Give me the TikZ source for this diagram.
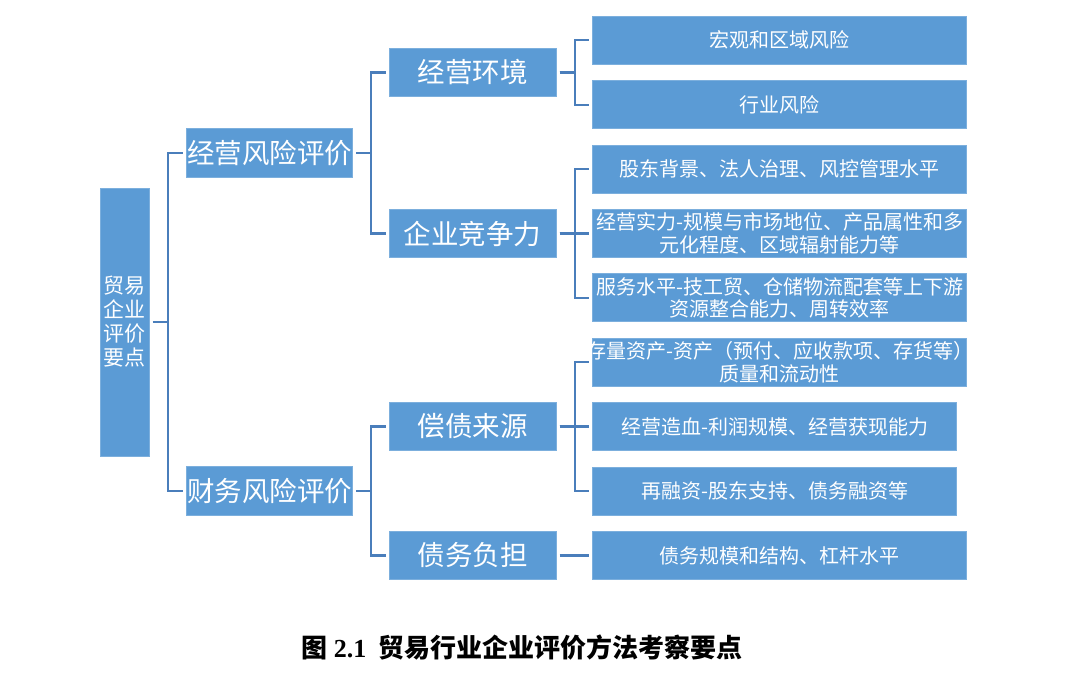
\documentclass[tikz,border=0pt]{standalone}
\usepackage{fontspec}
\setmainfont{Liberation Serif}
\newfontfamily\hei{Noto Sans CJK SC}
\definecolor{boxblue}{HTML}{5B9BD5}
\definecolor{lineblue}{HTML}{4A7EBB}

\begin{document}
\begin{tikzpicture}[x=0.5pt, y=-0.5pt, grow'=right,
    every node/.style={rectangle, draw=boxblue!80!white, line width=0.4pt,
                       fill=boxblue, text=white, inner sep=0pt,
                       anchor=west, align=center},
    edge from parent/.style={draw=lineblue, line width=1.1pt,
                             shorten <=1.5pt, shorten >=1.5pt},
    edge from parent path={(\tikzparentnode.east) -- ++(9pt,0) |- (\tikzchildnode.west)},
    level 1/.style={level distance=30.75pt, sibling distance=169pt,
                    minimum width=83pt, minimum height=24.5pt,
                    font=\hei\fontsize{13.75}{16}\selectfont},
    level 2/.style={level distance=59.5pt,
                    minimum width=83.5pt, minimum height=24pt},
    level 3/.style={level distance=59.75pt, sibling distance=32.2pt,
                    minimum width=187pt, minimum height=24pt,
                    font=\hei\fontsize{10}{11.2}\selectfont}]
  \useasboundingbox (0,0) rectangle (1080,673);
  \node[minimum width=24.5pt, minimum height=134pt,
        font=\hei\fontsize{10.5}{12}\selectfont] (root) at (100,322)
        {贸易\\企业\\评价\\要点}
    child { node (jyfx) {经营风险评价}
      child[sibling distance=80.5pt] { node (jyhj) {经营环境}
        child { node (hg) {宏观和区域风险} }
        child { node (hy) {行业风险} }
      }
      child[sibling distance=80.5pt] { node (jzl) {企业竞争力}
        child { node (gd) {股东背景、法人治理、风控管理水平} }
        child { node (sl) {经营实力-规模与市场地位、产品属性和多\\元化程度、区域辐射能力等} }
        child { node (fw) {服务水平-技工贸、仓储物流配套等上下游\\资源整合能力、周转效率} }
      }
    }
    child { node (cwfx) {财务风险评价}
      child[sibling distance=64.5pt] { node (cz) {偿债来源}
        child { node (cl) {\makebox[187pt]{存量资产-资产（预付、应收款项、存货等）}\\质量和流动性} }
        child { node[minimum width=182pt] (zx) {经营造血-利润规模、经营获现能力} }
        child { node[minimum width=182pt] (zrz) {再融资-股东支持、债务融资等} }
      }
      child[sibling distance=64.5pt] { node (fd) {债务负担}
        child { node (gm) {债务规模和结构、杠杆水平} }
      }
    };
  % caption
  \node[draw=none, fill=none, text=black, anchor=center,
        font=\hei\bfseries\fontsize{13}{15}\selectfont] (caption) at (522,648)
        {图 {\rmfamily\bfseries 2.1}\ \ 贸易行业企业评价方法考察要点};
\end{tikzpicture}
\end{document}
